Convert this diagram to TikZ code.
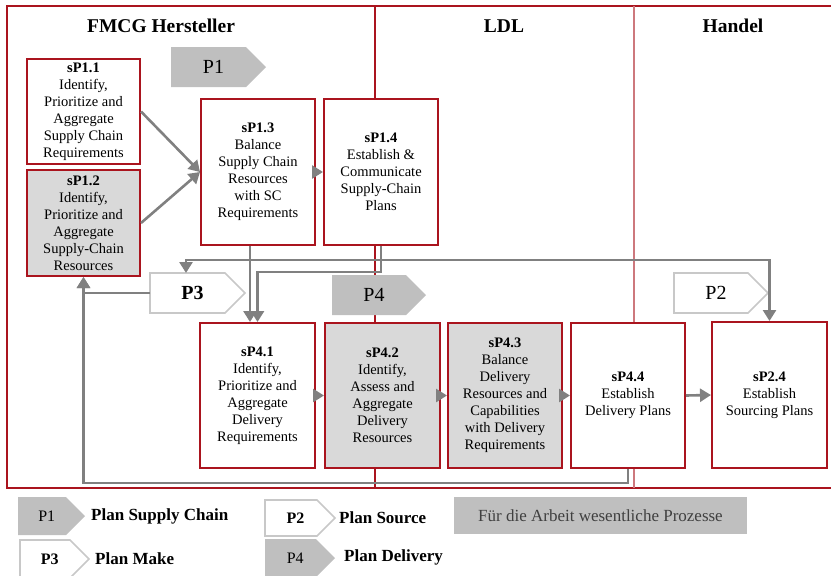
\documentclass[tikz,border=0pt]{standalone}
\usepackage{fontspec}
\setmainfont{Liberation Serif}
\usetikzlibrary{arrows.meta,calc}
\definecolor{dred}{RGB}{170,20,30}
\definecolor{lred}{RGB}{205,120,125}
\definecolor{conngray}{RGB}{128,128,128}
\definecolor{boxgray}{RGB}{217,217,217}
\definecolor{pgray}{RGB}{191,191,191}
\definecolor{pline}{RGB}{200,200,200}
\definecolor{textgray}{RGB}{64,64,64}
\newcommand\pentshape[8]{%
  \path[#2] (#3,#4) -- ({#5-(#6-#4)/2},#4) -- (#5,{(#4+#6)/2}) -- ({#5-(#6-#4)/2},#6) -- (#3,#6) -- cycle;
  \coordinate (#1nw) at (#3,#4);
  \coordinate (#1w) at (#3,{(#4+#6)/2});
  \node[#7] (#1) at ({(#3+#5)/2-(#6-#4)/8},{(#4+#6)/2}) {#8};
}
\begin{document}
\begin{tikzpicture}[x=1pt,y=-1pt,
  box/.style={draw=dred, line width=2pt, fill=white, align=center, inner sep=0pt,
    font=\fontsize{14.5}{17}\selectfont},
  graybox/.style={box, fill=boxgray},
  conn/.style={draw=conngray, line width=2.6pt, -{Triangle[length=11pt,width=13pt]}},
  frame/.style={draw=dred, line width=1.1pt},
  frametwo/.style={draw=lred, line width=1.1pt},
  hdr/.style={font=\fontsize{19.5}{22}\bfseries\selectfont, inner sep=0pt},
  pfill/.style={fill=pgray},
  pwhite/.style={fill=white, draw=pline, line width=1.6pt},
  ptext/.style={font=\fontsize{20}{22}\selectfont, inner sep=0pt},
  ptextb/.style={font=\fontsize{20}{22}\bfseries\selectfont, inner sep=0pt},
  ltext/.style={font=\fontsize{16}{18}\selectfont, inner sep=0pt},
  ltextb/.style={font=\fontsize{16}{18}\bfseries\selectfont, inner sep=0pt},
  leglbl/.style={font=\fontsize{17}{19}\bfseries\selectfont, inner sep=0pt, anchor=west}
]
\useasboundingbox (0,0) rectangle (831,576);
% frame and lanes
\draw[frame] (7,6) rectangle (845,488);
\draw[frame] (375,6) -- (375,488);
\draw[frametwo] (634,6) -- (634,488);
% headers
\node[hdr] (h1) at (161,26) {FMCG Hersteller};
\node[hdr] (h2) at (504,26) {LDL};
\node[hdr] (h3) at (733,26) {Handel};
% process pentagons
\pentshape{p1}{pfill}{171}{47}{266}{87}{ptext}{P1}
\pentshape{p3}{pwhite}{150}{273}{245}{313}{ptextb}{P3}
\pentshape{p4}{pfill}{332}{275}{426}{315}{ptext}{P4}
\pentshape{p2}{pwhite}{674}{273}{768}{313}{ptext}{P2}
% boxes
\node[box, minimum width=113, minimum height=105] (s11) at (83.5,111.5)
  {\textbf{sP1.1}\\Identify,\\Prioritize and\\Aggregate\\Supply Chain\\Requirements};
\node[graybox, minimum width=113, minimum height=106] (s12) at (83.5,223)
  {\textbf{sP1.2}\\Identify,\\Prioritize and\\Aggregate\\Supply-Chain\\Resources};
\node[box, minimum width=114, minimum height=146] (s13) at (258,172)
  {\textbf{sP1.3}\\Balance\\Supply Chain\\Resources\\with SC\\Requirements};
\node[box, minimum width=114, minimum height=146] (s14) at (381,172)
  {\textbf{sP1.4}\\Establish \&\\Communicate\\Supply-Chain\\Plans};
\node[box, minimum width=115, minimum height=145] (s41) at (257.5,395.5)
  {\textbf{sP4.1}\\Identify,\\Prioritize and\\Aggregate\\Delivery\\Requirements};
\node[graybox, minimum width=115, minimum height=145] (s42) at (382.5,395.5)
  {\textbf{sP4.2}\\Identify,\\Assess and\\Aggregate\\Delivery\\Resources};
\node[graybox, minimum width=114, minimum height=145] (s43) at (505,395.5)
  {\textbf{sP4.3}\\Balance\\Delivery\\Resources and\\Capabilities\\with Delivery\\Requirements};
\node[box, minimum width=114, minimum height=145] (s44) at (628,395.5)
  {\textbf{sP4.4}\\Establish\\Delivery Plans};
\node[box, minimum width=115, minimum height=146] (s24) at (769.5,395)
  {\textbf{sP2.4}\\Establish\\Sourcing Plans};
% connectors
\draw[conn] (s11.east) -- (s13.west);
\draw[conn] (s12.east) -- (s13.west);
\draw[conn] (s13.east) -- (s14.west);
\draw[conn] ([xshift=-8pt]s13.south) -- ([xshift=-8pt]s13.south |- s41.north);
\draw[conn] (s14.south) -- ++(0,26) -| (s41.north);
\draw[conn] (s14.south) -- ++(0,14) -| ($(p3nw)+(36,0)$);
\draw[conn] (s14.south) -- ++(0,14) -| (s24.north);
\draw[conn] (p3w) -| (s12.south);
\draw[conn] (s44.south) -- ++(0,14) -| (s12.south);
\draw[conn] (s41.east) -- (s42.west);
\draw[conn] (s42.east) -- (s43.west);
\draw[conn] (s43.east) -- (s44.west);
\draw[conn] (s44.east) -- (s24.west);
% legend
\pentshape{l1}{pfill}{18}{497}{85}{535}{ltext}{P1}
\pentshape{l2}{pwhite}{265}{500}{335}{536}{ltextb}{P2}
\pentshape{l3}{pwhite}{20}{540}{89}{578}{ltextb}{P3}
\pentshape{l4}{pfill}{265}{539}{335}{577}{ltext}{P4}
\node[leglbl] (t1) at (91,516) {Plan Supply Chain};
\node[leglbl] (t2) at (339,518) {Plan Source};
\node[leglbl] (t3) at (95,559) {Plan Make};
\node[leglbl] (t4) at (344,557) {Plan Delivery};
\node[fill=pgray, minimum width=293, minimum height=37, inner sep=0pt, text=textgray,
  font=\fontsize{17}{19}\selectfont] (leg) at (600.5,515.5) {Für die Arbeit wesentliche Prozesse};
\end{tikzpicture}
\end{document}
